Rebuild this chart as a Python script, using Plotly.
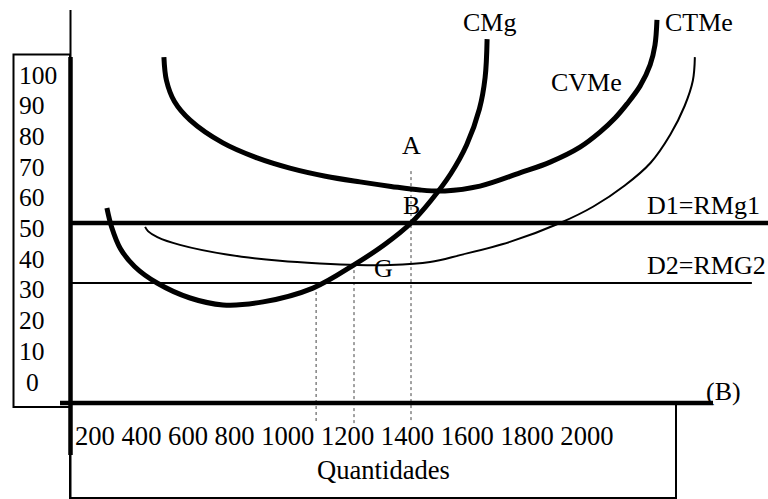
import plotly.graph_objects as go

# ---------------- data (quantity, price) ----------------
cmg_q = [333, 350, 380, 430, 509, 625, 740, 881, 1056, 1204, 1310, 1400, 1470, 1540, 1595, 1640, 1660, 1667]
cmg_p = [55, 48.5, 41.5, 35.5, 30, 25, 22.7, 23.7, 28.3, 36.3, 43.0, 50, 57.5, 66.5, 76.0, 88.0, 98.5, 111.3]

ctme_q = [533, 542, 570, 625, 740, 860, 975, 1100, 1221, 1330, 1432, 1519, 1642, 1782, 1888, 1993, 2063, 2116, 2158, 2204, 2239, 2256, 2263]
ctme_p = [105.3, 97.5, 90.5, 84.3, 76.7, 71.7, 68.3, 65.6, 63.7, 62.2, 61, 60.7, 62.3, 66.7, 70.3, 75.3, 80.3, 85, 89.7, 95.7, 102.7, 109.3, 117.7]

cvme_q = [467, 478, 510, 589, 765, 940, 1080, 1211, 1326, 1467, 1572, 1747, 1923, 2040, 2150, 2240, 2310, 2360, 2389, 2396]
cvme_p = [48.7, 47.2, 45.3, 42.7, 39.3, 37.4, 36.5, 36, 36, 37, 39.3, 43.7, 50, 55.5, 62.5, 70.0, 79.5, 89.0, 97.5, 105.3]

d1_price = 50
d2_price = 30

# quantities of the dotted guide lines and the price they start from
guide_q = [1400, 1200, 1067]
guide_p_top = [67.3, 36.3, 29]

point_labels = ["A", "B", "G"]
point_q = [1400, 1400, 1305]
point_p = [76, 55.7, 35]

y_tick_labels = ["100", "90", "80", "70", "60", "50", "40", "30", "20", "10", "0"]
x_tick_labels = ["200", "400", "600", "800", "1000", "1200", "1400", "1600", "1800", "2000"]

x_title = "Quantidades"

# ---------------- layout constants ----------------
W, H = 768, 499
Q_MIN, Q_MAX = -42.1, 2652.6
P_MIN, P_MAX = -42.0, 124.333
FONT = "Liberation Serif"


def px(x):
    return x / W


def py(y):
    return 1 - y / H


fig = go.Figure()

# dotted guides
for q, p in zip(guide_q, guide_p_top):
    fig.add_trace(go.Scatter(x=[q, q], y=[p, -16.7], mode="lines",
                             line=dict(color="#444", width=1, dash="dot"),
                             hoverinfo="skip", showlegend=False))

# demand lines
fig.add_trace(go.Scatter(x=[204, Q_MAX], y=[d1_price, d1_price], mode="lines",
                         line=dict(color="black", width=4.5), showlegend=False))
fig.add_trace(go.Scatter(x=[204, 2596], y=[d2_price, d2_price], mode="lines",
                         line=dict(color="black", width=2.2), showlegend=False))

# cost curves
fig.add_trace(go.Scatter(x=cvme_q, y=cvme_p, mode="lines", name="CVMe",
                         line=dict(color="black", width=2, shape="spline", smoothing=1),
                         showlegend=False))
fig.add_trace(go.Scatter(x=ctme_q, y=ctme_p, mode="lines", name="CTMe",
                         line=dict(color="black", width=5, shape="spline", smoothing=1),
                         showlegend=False))
fig.add_trace(go.Scatter(x=cmg_q, y=cmg_p, mode="lines", name="CMg",
                         line=dict(color="black", width=5, shape="spline", smoothing=1),
                         showlegend=False))

shapes = []
# y-label box
shapes.append(dict(type="rect", xref="paper", yref="paper",
                   x0=px(13.5), x1=px(70), y0=py(407), y1=py(54.5),
                   line=dict(color="black", width=2)))
# x-label box
shapes.append(dict(type="rect", xref="paper", yref="paper",
                   x0=px(70), x1=px(676), y0=py(498), y1=py(404),
                   line=dict(color="black", width=2)))
# vertical axis (thin whole, thick middle)
shapes.append(dict(type="line", xref="paper", yref="paper",
                   x0=px(70.5), x1=px(70.5), y0=py(10), y1=py(499),
                   line=dict(color="black", width=2)))
shapes.append(dict(type="line", xref="paper", yref="paper",
                   x0=px(70.5), x1=px(70.5), y0=py(57), y1=py(455),
                   line=dict(color="black", width=4.5)))
# horizontal axis
shapes.append(dict(type="line", xref="paper", yref="paper",
                   x0=px(60), x1=px(713), y0=py(403), y1=py(403),
                   line=dict(color="black", width=4.5)))

annotations = []
base = dict(showarrow=False, font=dict(family=FONT, size=26, color="black"))

# y tick labels (typeset column)
for i, t in enumerate(y_tick_labels):
    annotations.append(dict(base, text=t, xref="paper", yref="paper",
                            x=px(24 if t == "0" else 16.5), xanchor="left",
                            y=py(75 + 30.7 * i), yanchor="middle",
                            font=dict(family=FONT, size=25.5, color="black")))

# x tick labels (typeset row)
annotations.append(dict(base, text=" ".join(x_tick_labels), xref="paper", yref="paper",
                        x=px(73), xanchor="left", y=py(436), yanchor="middle",
                        font=dict(family=FONT, size=26.6, color="black")))
annotations.append(dict(base, text=x_title, xref="paper", yref="paper",
                        x=px(383), xanchor="center", y=py(470), yanchor="middle",
                        font=dict(family=FONT, size=26.6, color="black")))
annotations.append(dict(base, text="(B)", xref="paper", yref="paper",
                        x=px(704), xanchor="left", y=py(391), yanchor="middle"))

# curve labels
annotations.append(dict(base, text="CMg", x=1677, y=116.7, xanchor="center", yanchor="middle"))
annotations.append(dict(base, text="CTMe", x=2411, y=116.7, xanchor="center", yanchor="middle"))
annotations.append(dict(base, text="CVMe", x=2014, y=96.7, xanchor="center", yanchor="middle"))
annotations.append(dict(base, text="D1=RMg1", x=2221, y=56, xanchor="left", yanchor="middle"))
annotations.append(dict(base, text="D2=RMG2", x=2221, y=36, xanchor="left", yanchor="middle"))

for t, q, p in zip(point_labels, point_q, point_p):
    annotations.append(dict(base, text=t, x=q, y=p, xanchor="center", yanchor="middle"))

fig.update_layout(
    width=W, height=H,
    margin=dict(l=0, r=0, t=0, b=0),
    paper_bgcolor="white", plot_bgcolor="white",
    font=dict(family=FONT),
    xaxis=dict(range=[Q_MIN, Q_MAX], visible=False, fixedrange=True),
    yaxis=dict(range=[P_MIN, P_MAX], visible=False, fixedrange=True),
    shapes=shapes, annotations=annotations,
    showlegend=False,
)

fig.write_html("out.html", post_script="document.body.style.margin='0';",
               config={"displayModeBar": False})
